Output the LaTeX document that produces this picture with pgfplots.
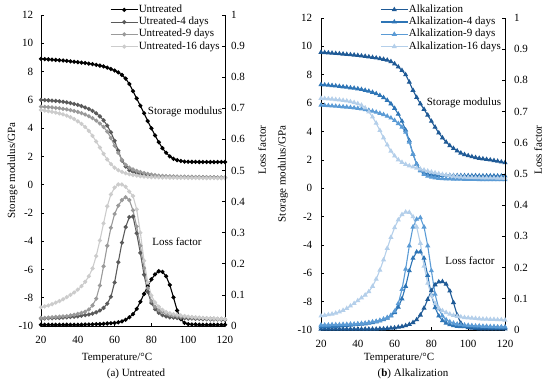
\documentclass[border=0pt]{standalone}
\usepackage{pgfplots}
\usepackage{pgfplotstable}
\pgfplotsset{compat=1.18}
\usepackage{fontspec}
\setmainfont{Liberation Serif}
\newcommand\fs{\fontsize{11}{13}\selectfont}
\definecolor{ua}{HTML}{000000}
\definecolor{ub}{HTML}{5A5A5A}
\definecolor{uc}{HTML}{9A9A9A}
\definecolor{ud}{HTML}{CCCCCC}
\definecolor{aa}{HTML}{1F5A96}
\definecolor{ab}{HTML}{2E75B6}
\definecolor{ac}{HTML}{5B9BD5}
\definecolor{ad}{HTML}{B4CFEA}

\pgfplotstableread{
T us u4s u9s u16s ul u4l u9l u16l
20 8.90 6.00 5.52 5.28 0.004 0.024 0.026 0.060
22 8.88 5.98 5.50 5.24 0.004 0.024 0.026 0.063
24 8.86 5.96 5.48 5.20 0.004 0.025 0.027 0.066
26 8.84 5.94 5.46 5.15 0.004 0.025 0.028 0.070
28 8.82 5.92 5.43 5.10 0.004 0.026 0.029 0.075
30 8.80 5.89 5.40 5.04 0.004 0.026 0.030 0.080
32 8.78 5.86 5.36 4.97 0.004 0.027 0.031 0.086
34 8.75 5.82 5.32 4.88 0.004 0.028 0.032 0.093
36 8.72 5.77 5.27 4.77 0.004 0.029 0.034 0.100
38 8.69 5.71 5.21 4.64 0.004 0.030 0.036 0.108
40 8.66 5.64 5.14 4.48 0.004 0.031 0.039 0.117
42 8.63 5.56 5.06 4.30 0.004 0.033 0.042 0.128
44 8.60 5.46 4.96 4.08 0.005 0.035 0.046 0.142
46 8.56 5.35 4.84 3.80 0.005 0.037 0.053 0.160
48 8.52 5.22 4.70 3.45 0.005 0.040 0.066 0.185
50 8.47 5.05 4.53 3.05 0.006 0.044 0.088 0.225
52 8.42 4.83 4.32 2.62 0.006 0.050 0.130 0.275
54 8.36 4.55 4.08 2.18 0.007 0.058 0.192 0.330
56 8.28 4.18 3.75 1.78 0.008 0.072 0.258 0.385
58 8.18 3.70 3.30 1.45 0.009 0.094 0.316 0.423
60 8.07 3.10 2.75 1.20 0.010 0.140 0.360 0.445
62 7.94 2.40 2.25 1.02 0.012 0.205 0.387 0.455
64 7.76 1.70 1.75 0.90 0.015 0.268 0.405 0.455
66 7.50 1.28 1.40 0.81 0.020 0.318 0.414 0.448
68 7.12 1.02 1.20 0.74 0.028 0.350 0.405 0.432
70 6.62 0.90 1.07 0.68 0.038 0.352 0.372 0.418
72 6.10 0.82 0.97 0.64 0.055 0.298 0.320 0.375
74 5.58 0.76 0.89 0.60 0.078 0.235 0.258 0.300
76 5.05 0.71 0.82 0.57 0.103 0.165 0.186 0.210
78 4.50 0.67 0.76 0.55 0.128 0.110 0.122 0.140
80 3.98 0.64 0.71 0.53 0.150 0.074 0.080 0.098
82 3.48 0.61 0.67 0.52 0.166 0.054 0.062 0.076
84 3.00 0.59 0.64 0.51 0.176 0.042 0.051 0.062
86 2.58 0.57 0.62 0.50 0.174 0.035 0.045 0.052
88 2.25 0.56 0.60 0.50 0.160 0.031 0.040 0.045
90 2.00 0.55 0.59 0.49 0.132 0.028 0.036 0.041
92 1.83 0.55 0.58 0.49 0.092 0.027 0.033 0.038
94 1.73 0.54 0.57 0.48 0.050 0.026 0.031 0.036
96 1.67 0.54 0.56 0.48 0.022 0.025 0.030 0.034
98 1.63 0.53 0.56 0.48 0.010 0.025 0.029 0.032
100 1.62 0.53 0.55 0.47 0.006 0.024 0.028 0.030
102 1.61 0.53 0.55 0.47 0.005 0.024 0.027 0.029
104 1.61 0.52 0.54 0.47 0.005 0.023 0.026 0.028
106 1.60 0.52 0.54 0.47 0.004 0.023 0.026 0.027
108 1.60 0.52 0.53 0.46 0.004 0.022 0.025 0.026
110 1.60 0.51 0.53 0.46 0.004 0.022 0.025 0.025
112 1.60 0.51 0.52 0.46 0.004 0.021 0.024 0.024
114 1.60 0.51 0.52 0.46 0.004 0.021 0.024 0.024
116 1.60 0.50 0.51 0.45 0.004 0.021 0.023 0.023
118 1.60 0.50 0.51 0.45 0.004 0.020 0.023 0.023
120 1.60 0.50 0.50 0.45 0.004 0.020 0.022 0.022
}\ta

\pgfplotstableread{
T as a4s a9s a16s al a4l a9l a16l
20 9.58 7.30 5.86 6.34 0.003 0.010 0.016 0.045
22 9.56 7.28 5.84 6.32 0.003 0.011 0.016 0.047
24 9.54 7.26 5.82 6.30 0.003 0.011 0.016 0.049
26 9.52 7.24 5.80 6.28 0.003 0.012 0.017 0.051
28 9.50 7.21 5.78 6.25 0.003 0.012 0.017 0.054
30 9.48 7.18 5.76 6.22 0.003 0.013 0.017 0.058
32 9.46 7.15 5.74 6.19 0.003 0.014 0.018 0.063
34 9.43 7.12 5.72 6.15 0.003 0.015 0.018 0.069
36 9.41 7.08 5.69 6.10 0.003 0.016 0.019 0.077
38 9.39 7.05 5.66 6.04 0.003 0.017 0.019 0.085
40 9.36 7.01 5.63 5.96 0.003 0.018 0.020 0.094
42 9.33 6.96 5.59 5.85 0.003 0.019 0.021 0.103
44 9.30 6.90 5.54 5.66 0.003 0.020 0.022 0.112
46 9.26 6.84 5.49 5.38 0.003 0.022 0.024 0.123
48 9.22 6.76 5.43 5.02 0.003 0.024 0.026 0.140
50 9.18 6.66 5.36 4.58 0.003 0.026 0.028 0.163
52 9.14 6.54 5.28 4.07 0.004 0.029 0.031 0.192
54 9.09 6.39 5.19 3.55 0.004 0.033 0.035 0.225
56 9.03 6.20 5.08 3.05 0.005 0.038 0.040 0.262
58 8.93 5.95 4.95 2.62 0.006 0.045 0.047 0.297
60 8.77 5.63 4.78 2.27 0.007 0.056 0.060 0.328
62 8.55 5.22 4.56 2.00 0.009 0.073 0.085 0.353
64 8.30 4.72 4.30 1.82 0.011 0.100 0.130 0.370
66 8.00 4.10 3.95 1.68 0.014 0.140 0.195 0.378
68 7.48 3.35 3.25 1.58 0.018 0.190 0.270 0.377
70 6.90 2.40 2.40 1.50 0.024 0.230 0.330 0.363
72 6.40 1.70 1.70 1.42 0.033 0.250 0.355 0.330
74 5.95 1.28 1.22 1.35 0.048 0.250 0.360 0.278
76 5.56 1.08 0.98 1.28 0.070 0.230 0.330 0.205
78 5.15 0.98 0.85 1.21 0.098 0.175 0.270 0.150
80 4.72 0.94 0.78 1.14 0.126 0.112 0.190 0.110
82 4.30 0.92 0.73 1.08 0.145 0.072 0.115 0.085
84 3.90 0.91 0.70 1.02 0.154 0.045 0.068 0.070
86 3.55 0.90 0.68 0.97 0.155 0.030 0.045 0.062
88 3.25 0.90 0.66 0.92 0.147 0.022 0.033 0.056
90 3.00 0.90 0.65 0.88 0.125 0.017 0.026 0.051
92 2.80 0.89 0.64 0.85 0.088 0.014 0.022 0.047
94 2.63 0.89 0.63 0.82 0.048 0.012 0.019 0.044
96 2.48 0.89 0.63 0.80 0.022 0.011 0.017 0.042
98 2.37 0.88 0.62 0.78 0.012 0.011 0.016 0.040
100 2.29 0.88 0.62 0.77 0.008 0.010 0.015 0.039
102 2.22 0.88 0.62 0.76 0.006 0.010 0.014 0.038
104 2.16 0.88 0.62 0.75 0.005 0.009 0.013 0.037
106 2.11 0.87 0.61 0.74 0.004 0.009 0.013 0.036
108 2.07 0.87 0.61 0.73 0.004 0.009 0.012 0.035
110 2.03 0.87 0.61 0.73 0.004 0.009 0.012 0.035
112 1.99 0.87 0.61 0.72 0.004 0.008 0.011 0.034
114 1.95 0.87 0.61 0.72 0.004 0.008 0.011 0.034
116 1.90 0.86 0.60 0.71 0.004 0.008 0.010 0.033
118 1.85 0.86 0.60 0.71 0.004 0.008 0.010 0.033
120 1.80 0.86 0.60 0.70 0.004 0.008 0.010 0.032
}\tb

\pgfplotsset{
  base/.style={
    scale only axis, width=184pt, xmin=20, xmax=120,
    tick align=inside, major tick length=3pt, clip=false,
    axis line style={black, line width=0.6pt},
    tick style={black, line width=0.6pt},
    tick label style={font=\fs},
    label style={font=\fs},
    /pgf/number format/assume math mode=true,
  },
  leftax/.style={
    base, axis x line*=bottom, axis y line*=left,
    ymin=-10, ymax=12, ytick={-10,-8,-6,-4,-2,0,2,4,6,8,10,12},
    xtick={20,40,60,80,100,120},
    xticklabel style={yshift=-6.5pt},
    xlabel={Temperature/°C},
    ylabel={Storage modulus/GPa},
    legend cell align=left,
    legend image code/.code={\draw[mark repeat=2,mark phase=2] plot coordinates {(0pt,0pt) (13.5pt,0pt) (27pt,0pt)};},
  },
  rightax/.style={
    base, axis x line=none, axis y line*=right,
    ymin=0, ymax=1, ytick={0,0.1,0.2,0.3,0.4,0.5,0.6,0.7,0.8,0.9,1},
    yticklabel style={/pgf/number format/.cd, fixed, precision=1, /tikz/.cd, xshift=2.5pt},
    ylabel={Loss factor},
  },
  ca/.style={line width=1.1pt, mark=*, mark size=1.5pt, mark options={solid}},
  cb/.style={line width=1.1pt, mark=triangle*, mark size=1.9pt, mark options={solid}},
}

\begin{document}
\begin{tikzpicture}
% ---------- panel (a) ----------
\begin{axis}[leftax, height=311pt, at={(41pt,60pt)}, anchor=south west,
  yticklabel style={xshift=-4.3pt},
  xlabel style={at={(axis description cs:0.413,-0.103)}, anchor=center},
  ylabel style={at={(axis description cs:-0.155,0.5)}, anchor=center, rotate=0},
  legend style={at={(0.375,1.035)}, anchor=north west, draw=none, fill=none,
    inner sep=0pt, font=\fs, row sep=1.3pt,
    nodes={inner sep=0.5pt, text height=7.5pt, text depth=2.5pt}}]
\addplot[ca, color=ua] table[x=T,y=us]{\ta};
\addlegendentry{Untreated}
\addplot[ca, color=ub] table[x=T,y=u4s]{\ta};
\addlegendentry{Utreated-4 days}
\addplot[ca, color=uc] table[x=T,y=u9s]{\ta};
\addlegendentry{Untreated-9 days}
\addplot[ca, color=ud] table[x=T,y=u16s]{\ta};
\addlegendentry{Untreated-16 days}
\node[font=\fs] at (axis cs:98.3,5.14) {Storage modulus};
\node[font=\fs] at (axis cs:93.9,-4.06) {Loss factor};
\end{axis}
\begin{axis}[rightax, height=311pt, at={(41pt,60pt)}, anchor=south west,
  ylabel style={at={(axis description cs:1.201,0.566)}, anchor=center, rotate=0}]
\addplot[ca, color=ua] table[x=T,y=ul]{\ta};
\addplot[ca, color=ub] table[x=T,y=u4l]{\ta};
\addplot[ca, color=uc] table[x=T,y=u9l]{\ta};
\addplot[ca, color=ud] table[x=T,y=u16l]{\ta};
\end{axis}
% ---------- panel (b) ----------
\begin{axis}[leftax, height=312pt, at={(321pt,56pt)}, anchor=south west,
  yticklabel style={xshift=-5.3pt},
  xlabel style={at={(axis description cs:0.424,-0.09)}, anchor=center},
  ylabel style={at={(axis description cs:-0.207,0.5)}, anchor=center, rotate=0},
  legend style={at={(0.321,1.045)}, anchor=north west, draw=none, fill=none,
    inner sep=0pt, font=\fs, row sep=1.3pt,
    nodes={inner sep=0.5pt, text height=7.5pt, text depth=2.5pt}}]
\addplot[cb, color=aa] table[x=T,y=as]{\tb};
\addlegendentry{Alkalization}
\addplot[cb, color=ab] table[x=T,y=a4s]{\tb};
\addlegendentry{Alkalization-4 days}
\addplot[cb, color=ac] table[x=T,y=a9s]{\tb};
\addlegendentry{Alkalization-9 days}
\addplot[cb, color=ad] table[x=T,y=a16s]{\tb};
\addlegendentry{Alkalization-16 days}
\node[font=\fs] at (axis cs:97.7,6.0) {Storage modulus};
\node[font=\fs] at (axis cs:101,-5.14) {Loss factor};
\end{axis}
\begin{axis}[rightax, height=312pt, at={(321pt,56pt)}, anchor=south west,
  yticklabel style={xshift=3pt},
  ylabel style={at={(axis description cs:1.179,0.577)}, anchor=center, rotate=0}]
\addplot[cb, color=aa] table[x=T,y=al]{\tb};
\addplot[cb, color=ab] table[x=T,y=a4l]{\tb};
\addplot[cb, color=ac] table[x=T,y=a9l]{\tb};
\addplot[cb, color=ad] table[x=T,y=a16l]{\tb};
\end{axis}
\node[font=\fs] at (136pt,12pt) {(a) Untreated};
\node[font=\fs] at (413pt,12pt) {(\textbf{b}) Alkalization};
\pgfresetboundingbox
\path[use as bounding box] (0pt,0pt) rectangle (550pt,386pt);
\end{tikzpicture}
\end{document}
